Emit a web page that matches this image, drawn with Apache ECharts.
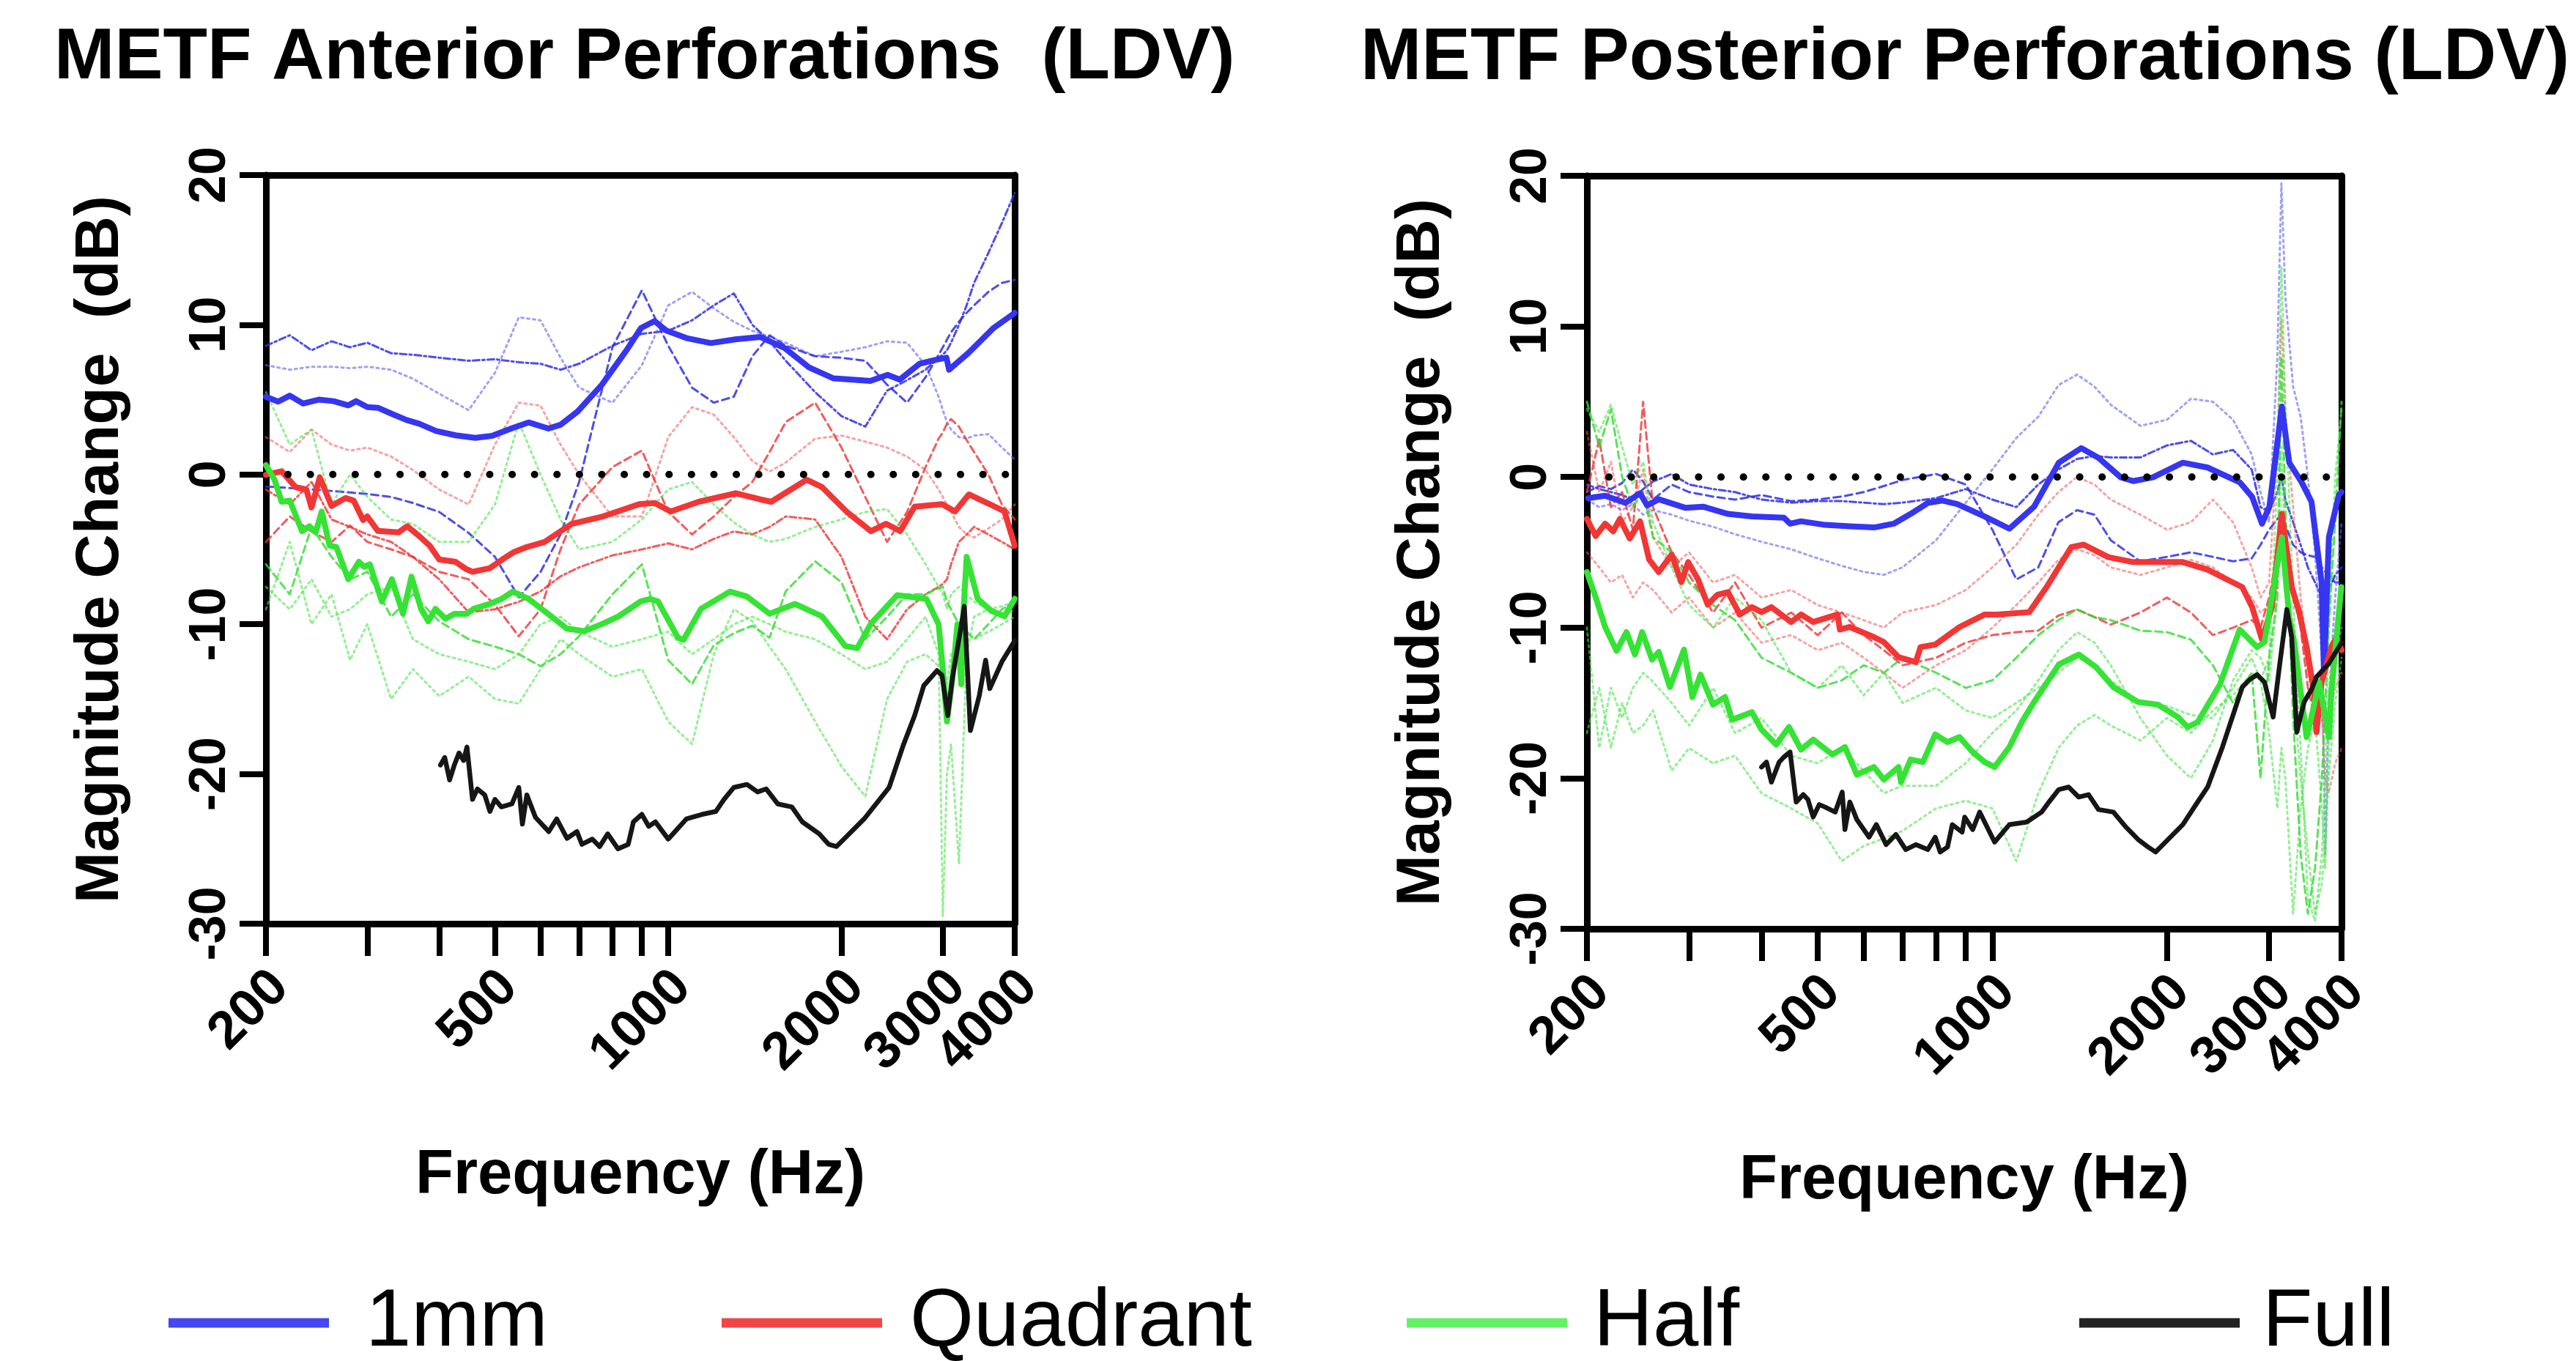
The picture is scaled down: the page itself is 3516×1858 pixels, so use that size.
<!DOCTYPE html>
<html>
<head>
<meta charset="utf-8">
<title>METF Perforations (LDV)</title>
<script src="https://cdn.jsdelivr.net/npm/echarts@6/dist/echarts.min.js"></script>
<style>
  html, body { margin: 0; padding: 0; background: #fff; }
  #chart { width: 3516px; height: 1858px; }
</style>
</head>
<body>
<div id="chart"></div>
<script>
// ---- axis ticks ----
const freqTicks = [200, 300, 400, 500, 600, 700, 800, 900, 1000, 2000, 3000, 4000];
const freqLabels = [200, 500, 1000, 2000, 3000];
const freqLabelsEnd = [4000];   // drawn on an overlay axis so it is not dropped as overlapping

// ---- anterior panel: group means ----
const blueMeanLFreq = [200,210,220,232,247,262,278,287,300,313,331,351,369,395,427,462,494,540,572,619,650,696,767,846,897,947,994,1076,1186,1309,1444,1593,1757,1938,2245,2405,2526,2733,2898,3044,3076,3326,3668,3984,4000];
const blueMeanL = [5.19,4.87,5.27,4.74,5.0,4.9,4.62,4.9,4.5,4.46,4.05,3.64,3.4,2.91,2.62,2.45,2.58,3.15,3.48,3.07,3.32,4.21,6.0,8.29,9.79,10.25,9.6,9.11,8.78,9.03,9.19,8.45,7.15,6.42,6.25,6.66,6.34,7.39,7.64,7.8,7.0,8.13,9.76,10.74,10.8];

const redMeanLFreq = [200,213,225,235,240,248,260,275,284,295,300,313,340,352,369,385,400,427,445,457,490,515,540,568,610,680,770,840,890,947,1010,1130,1310,1445,1510,1740,1850,2040,2250,2390,2530,2680,2990,3150,3330,3620,3840,4000];
const redMeanL = [-0.02,0.22,-0.84,-1.0,-2.2,-0.19,-2.1,-1.57,-1.74,-3.04,-2.8,-3.77,-3.86,-3.45,-4.1,-4.75,-5.67,-5.83,-6.3,-6.5,-6.25,-5.67,-5.17,-4.84,-4.5,-3.29,-2.8,-2.31,-1.98,-1.9,-2.47,-1.82,-1.25,-1.66,-1.82,-0.35,-0.84,-2.47,-3.78,-3.29,-3.78,-2.15,-1.98,-2.47,-1.33,-1.98,-2.47,-4.75];

const greenMeanLFreq = [200,207,213,220,231,238,244,250,258,265,278,290,296,303,318,331,346,358,372,383,394,410,425,447,459,490,513,537,572,618,667,715,770,820,895,930,960,1040,1063,1140,1280,1370,1500,1660,1850,2030,2130,2250,2500,2810,2950,3000,3050,3120,3180,3230,3260,3300,3450,3640,3840,4000];
const greenMeanL = [0.63,-0.35,-1.82,-1.74,-3.78,-3.45,-3.86,-2.47,-4.75,-4.84,-6.99,-5.83,-6.16,-6.0,-8.48,-6.99,-9.3,-6.83,-8.97,-9.8,-8.97,-9.63,-9.3,-9.3,-8.97,-8.64,-8.31,-7.82,-8.31,-9.3,-10.3,-10.46,-9.96,-9.47,-8.48,-8.31,-8.48,-10.9,-11.04,-8.97,-7.82,-8.15,-9.3,-8.64,-9.47,-11.45,-11.6,-9.96,-8.06,-8.31,-10.0,-13.0,-16.5,-13.5,-10.0,-14.0,-9.0,-5.5,-8.3,-9.1,-9.47,-8.3];

const fullLFreq = [402,409,417,425,433,441,447,457,466,480,490,500,513,535,550,558,568,588,620,640,667,694,708,738,760,785,818,852,870,900,925,950,1000,1076,1145,1210,1250,1300,1370,1430,1480,1550,1640,1710,1830,1900,1960,2020,2190,2420,2560,2680,2780,2930,2990,3060,3120,3200,3270,3350,3470,3560,3620,3800,4000];
const fullL = [-19.4,-18.9,-20.4,-19.4,-18.6,-19.1,-18.2,-21.7,-21.0,-21.4,-22.5,-21.7,-22.2,-22.0,-20.9,-23.35,-21.4,-22.9,-23.85,-23.0,-24.3,-23.85,-24.7,-24.35,-24.85,-24.0,-25.0,-24.7,-23.2,-22.7,-23.5,-23.2,-24.35,-23.0,-22.7,-22.5,-21.7,-20.9,-20.7,-21.2,-21.0,-22.0,-22.2,-23.2,-24.0,-24.7,-24.85,-24.35,-23.0,-20.9,-18.1,-16.1,-14.1,-13.1,-13.4,-16.1,-13.5,-11.0,-8.8,-17.1,-14.8,-12.4,-14.3,-12.5,-11.1];

// ---- anterior panel: individual ears ----
const thinLFreq = [200,220,240,260,280,300,330,360,400,450,500,550,600,650,700,800,900,1000,1100,1200,1300,1400,1500,1600,1800,2000,2200,2400,2600,2800,2950,3000,3050,3100,3200,3300,3400,3600,3800,4000];
const blueDashDotL = [8.6,9.3,8.3,8.9,8.5,8.8,8.1,8.0,7.8,7.6,7.7,7.5,7.4,7.0,7.4,8.6,9.4,9.6,10.3,11.3,12.1,10.0,8.9,7.6,5.5,3.9,3.2,5.6,6.3,7.0,7.8,8.0,8.3,8.8,10.0,11.3,12.8,14.8,16.8,18.8];
const blueDotL = [7.3,7.0,7.2,7.2,7.1,7.2,7.0,6.4,5.4,4.3,6.8,10.5,10.3,7.8,5.8,4.8,7.3,11.3,12.2,11.1,10.2,9.6,9.2,8.8,7.9,8.2,8.5,8.9,8.8,7.3,5.2,4.3,3.5,3.0,2.5,2.4,2.6,2.7,1.8,1.0];
const blueDashL = [-0.8,-0.9,-1.0,-1.1,-1.2,-1.3,-1.5,-1.9,-2.5,-3.9,-5.5,-8.2,-6.5,-4.0,-0.5,8.5,12.3,8.6,5.8,4.8,5.2,7.9,9.3,8.6,7.9,7.8,7.6,6.0,4.8,6.5,8.0,8.5,9.0,9.5,10.2,10.8,11.3,12.2,12.8,13.0];
const redDotL = [2.5,1.5,3.0,2.0,1.6,1.8,1.2,0.3,-1.0,-2.0,2.0,4.8,4.6,2.0,0.0,-2.8,-2.8,2.5,4.5,4.0,2.5,0.9,0.2,0.8,2.4,2.6,2.2,1.8,1.2,0.3,-1.0,-1.5,-2.0,-2.5,-3.5,-4.0,-4.2,-3.6,-3.0,-2.0];
const redDashL = [-4.5,-2.8,-3.8,-4.5,-3.4,-4.5,-5.0,-5.5,-6.5,-7.0,-8.7,-10.8,-9.0,-5.0,-2.0,0.5,1.6,-2.5,-4.0,-2.8,-1.5,-0.5,1.5,3.5,4.8,1.8,-1.5,-4.5,-2.5,0.5,2.4,2.8,3.4,3.7,3.2,2.3,1.5,0.0,-2.0,-3.0];
const redDashDotL = [-1.0,-2.0,-0.5,-3.0,-3.5,-4.0,-4.5,-5.5,-7.0,-9.2,-9.0,-8.5,-7.8,-6.8,-6.2,-5.4,-5.0,-4.6,-5.0,-4.3,-3.8,-4.0,-3.5,-2.8,-3.0,-5.5,-9.5,-11.0,-9.0,-8.0,-7.5,-7.3,-7.0,-6.0,-4.5,-4.0,-3.5,-4.0,-4.5,-5.0];
const greenDotAL = [5.5,2.0,3.0,-2.0,0.0,-1.5,-3.0,-3.3,-4.5,-4.5,-2.0,3.5,0.0,-3.0,-5.0,-4.5,-3.0,-1.0,-0.5,-2.0,-3.2,-4.0,-4.5,-4.3,-3.5,-3.0,-2.5,-2.3,-4.0,-6.0,-7.5,-8.0,-9.0,-8.0,-7.5,-8.0,-8.5,-9.0,-9.5,-9.0];
const greenDashL = [-6.0,-8.0,-3.5,-5.5,-7.0,-6.5,-9.5,-8.0,-9.8,-11.0,-11.5,-12.0,-12.8,-12.0,-10.8,-8.0,-6.0,-12.4,-14.0,-11.4,-10.6,-10.1,-10.9,-7.8,-5.8,-7.2,-11.0,-9.5,-8.0,-8.0,-7.6,-7.5,-8.5,-9.0,-10.0,-10.5,-11.0,-10.0,-9.0,-8.5];
const greenDotBL = [-9.0,-4.5,-10.0,-8.0,-12.4,-10.0,-15.0,-13.0,-14.8,-13.5,-15.0,-15.3,-13.0,-11.0,-12.0,-13.5,-13.0,-16.5,-18.0,-12.0,-9.0,-9.8,-11.5,-13.0,-16.5,-19.5,-21.5,-15.0,-12.5,-12.0,-12.8,-13.0,-14.0,-12.0,-11.5,-10.5,-11.0,-10.5,-10.0,-9.5];
const greenDotCL = [-7.5,-9.0,-7.0,-9.5,-9.0,-8.0,-7.5,-11.0,-12.0,-12.5,-13.0,-12.0,-10.0,-9.5,-10.5,-11.5,-11.0,-10.5,-12.0,-11.0,-10.0,-9.5,-10.0,-10.5,-11.0,-12.0,-13.0,-12.5,-11.0,-9.5,-12.0,-29.5,-20.0,-18.0,-26.0,-12.0,-9.5,-9.0,-8.8,-8.5];

// ---- posterior panel: group means ----
const blueMeanRFreq = [201,215,233,247,254,266,296,317,350,385,437,448,468,515,568,625,676,723,774,820,870,970,1070,1180,1302,1423,1524,1665,1749,1892,2130,2350,2670,2805,2917,3004,3156,3250,3414,3550,3695,3730,3804,3957,4000];
const blueMeanR = [-1.4,-1.24,-1.72,-1.08,-1.89,-1.48,-2.05,-1.97,-2.45,-2.62,-2.7,-3.1,-2.94,-3.18,-3.27,-3.35,-3.1,-2.45,-1.72,-1.56,-1.8,-2.62,-3.43,-1.97,0.95,1.92,1.27,-0.02,-0.27,-0.02,0.95,0.63,-0.35,-1.32,-3.1,-1.97,4.68,0.95,-0.35,-1.64,-7.0,-13.0,-4.0,-1.2,-1.0];

const redMeanRFreq = [200,207,215,222,228,237,247,256,266,280,291,299,311,323,336,350,367,385,400,416,450,468,491,541,546,568,625,650,689,738,752,797,878,970,1019,1158,1240,1368,1437,1585,1749,2130,2350,2593,2697,2805,2917,3034,3156,3282,3381,3482,3586,3621,3695,3842,3919,4000];
const redMeanR = [-2.78,-3.92,-3.1,-3.6,-2.78,-4.08,-2.94,-5.48,-6.31,-5.15,-6.98,-5.65,-6.81,-8.47,-7.81,-7.64,-9.13,-8.64,-8.97,-8.64,-9.63,-9.13,-9.63,-9.13,-10.13,-9.96,-10.63,-10.96,-11.96,-12.29,-11.29,-11.13,-9.96,-9.13,-9.13,-8.97,-7.31,-4.65,-4.49,-5.32,-5.65,-5.65,-6.15,-6.98,-7.31,-8.64,-10.79,-8.64,-2.45,-7.31,-8.97,-11.29,-14.28,-16.94,-13.62,-11.29,-10.63,-11.5];

const greenMeanRFreq = [200,207,215,225,234,242,249,259,266,278,294,304,314,330,346,356,385,400,424,446,468,491,530,557,584,625,650,689,696,723,759,797,837,878,925,970,1009,1070,1124,1180,1302,1409,1509,1617,1784,1930,2088,2172,2259,2468,2670,2860,2946,3156,3250,3315,3482,3550,3658,3804,3842,3996];
const greenMeanR = [-6.31,-7.97,-9.96,-11.54,-10.3,-11.79,-10.3,-12.12,-11.62,-13.95,-11.46,-14.61,-13.12,-15.11,-14.61,-16.11,-15.61,-16.77,-17.77,-16.6,-18.1,-17.43,-18.43,-17.93,-19.76,-19.26,-20.09,-19.26,-20.26,-18.76,-18.93,-17.1,-17.6,-17.27,-18.26,-18.93,-19.26,-17.93,-16.27,-14.94,-12.45,-11.79,-12.62,-13.95,-14.94,-15.11,-15.94,-16.6,-16.27,-13.78,-10.13,-11.29,-10.96,-4.0,-9.3,-10.96,-17.27,-15.94,-13.62,-17.27,-14.28,-7.31];

const fullRFreq = [400,408,416,429,437,448,459,472,481,491,503,515,536,551,557,568,584,613,631,656,682,709,738,774,797,813,837,853,887,896,925,951,1009,1070,1146,1216,1252,1302,1354,1409,1465,1524,1617,1699,1784,1856,1912,1969,2130,2259,2350,2493,2593,2697,2777,2860,2946,3049,3125,3219,3282,3348,3448,3550,3621,3800,4000];
const fullR = [-19.26,-18.93,-20.26,-18.93,-18.6,-18.26,-21.58,-21.09,-21.42,-22.58,-21.75,-21.92,-22.25,-20.92,-23.41,-21.58,-22.75,-23.91,-23.08,-24.41,-23.74,-24.74,-24.41,-24.74,-23.91,-24.9,-24.57,-23.08,-23.58,-22.58,-23.41,-22.25,-24.24,-23.08,-22.91,-22.25,-21.58,-20.75,-20.59,-21.25,-21.09,-22.08,-22.25,-23.24,-24.07,-24.57,-24.9,-24.41,-23.08,-21.58,-20.59,-17.93,-15.94,-13.95,-13.45,-13.12,-13.62,-15.94,-12.62,-8.8,-10.63,-16.94,-14.94,-14.11,-13.28,-12.4,-11.0];

// ---- posterior panel: individual ears ----
const thinRFreq = [200,210,220,230,240,250,260,280,300,330,360,400,450,500,550,600,650,700,800,900,1000,1100,1200,1300,1400,1500,1600,1800,2000,2200,2400,2600,2800,2900,3000,3100,3150,3200,3300,3400,3500,3600,3700,3750,3800,3900,4000];
const blueDashR = [-1.0,-0.6,-0.8,-0.4,0.5,-0.3,-1.5,-0.5,-1.0,-1.3,-1.5,-1.2,-1.6,-1.5,-1.3,-1.0,-0.6,-0.2,0.2,-0.5,-3.5,-6.8,-6.0,-3.0,-2.2,-2.5,-4.2,-5.6,-5.3,-5.0,-5.3,-5.6,-5.4,-4.5,-3.5,-2.8,-2.5,-3.2,-4.5,-5.0,-5.2,-5.3,-6.0,-6.3,-6.5,-7.0,-7.0];
const blueDashDotR = [-0.5,-0.8,-1.0,-1.2,-1.5,-0.8,-0.3,0.2,-0.5,-0.8,-1.0,-1.5,-1.7,-1.6,-1.6,-1.7,-1.8,-1.7,-1.4,-0.8,-1.5,-2.0,-0.5,0.5,1.2,1.4,1.3,1.3,2.1,2.4,1.5,1.8,0.5,-2.0,-2.3,-1.0,0.0,-1.5,-3.0,-4.5,-6.0,-7.0,-8.0,-8.0,-7.5,-6.5,-6.0];
const blueDotR = [-1.5,-2.0,-1.8,-2.2,-1.8,-2.5,-2.2,-2.5,-2.9,-3.3,-3.8,-4.3,-4.8,-5.4,-5.9,-6.3,-6.5,-6.0,-4.2,-1.7,0.5,2.6,4.0,6.1,6.8,6.0,4.8,3.4,3.8,5.2,5.0,3.8,1.5,-1.0,-3.0,8.0,19.5,12.0,6.0,4.0,0.0,-5.0,-12.0,-25.0,-15.0,-8.0,-3.0];
const redDotR = [3.0,-1.0,1.0,-3.0,-2.0,0.5,-4.0,-6.0,-5.0,-7.0,-6.5,-8.0,-7.5,-8.5,-9.0,-9.5,-10.0,-9.0,-8.5,-7.5,-6.0,-4.5,-2.5,-1.0,0.0,-0.5,-1.5,-2.5,-3.5,-3.0,-1.5,-3.0,-6.0,-8.0,-7.0,2.0,10.5,4.0,-2.0,-8.0,-12.0,-14.0,-16.0,-20.0,-21.0,-19.0,-18.0];
const redDashR = [-1.0,2.5,-2.0,-1.0,-3.5,5.0,-2.0,-5.0,-6.5,-9.0,-7.0,-10.0,-9.0,-10.5,-9.0,-10.5,-11.5,-12.5,-12.0,-11.0,-10.5,-10.3,-10.2,-9.2,-8.8,-9.3,-9.8,-9.0,-8.0,-9.0,-10.5,-10.0,-9.5,-10.0,-8.0,-5.0,-3.0,-5.0,-7.0,-10.0,-14.0,-16.0,-14.0,-13.0,-12.0,-11.0,-11.0];
const redDotBR = [-5.0,-6.0,-7.0,-6.5,-8.0,-7.0,-7.5,-9.0,-8.0,-10.0,-9.0,-11.0,-10.5,-11.5,-11.0,-12.0,-13.0,-14.0,-12.5,-11.5,-10.0,-8.5,-7.0,-5.5,-4.8,-5.2,-6.0,-6.5,-6.0,-5.5,-6.0,-7.0,-8.0,-9.0,-8.5,-6.0,-4.0,-6.0,-8.0,-10.0,-13.0,-15.0,-16.0,-17.0,-16.0,-14.0,-13.0];
const greenDashR = [5.0,2.0,4.5,0.0,-2.0,-1.0,-4.0,-5.0,-7.0,-8.5,-9.5,-12.0,-13.0,-14.0,-13.5,-12.5,-13.0,-12.0,-13.0,-14.0,-13.5,-12.0,-10.5,-9.5,-8.8,-9.3,-9.5,-10.2,-10.3,-10.8,-12.5,-15.0,-13.0,-20.0,-12.0,-8.0,8.0,-2.0,-16.0,-25.0,-29.0,-26.0,-20.0,-15.0,-10.0,-3.0,5.0];
const greenDotAR = [-10.0,-18.0,-14.0,-16.0,-14.0,-13.0,-13.6,-15.0,-16.5,-14.0,-17.0,-16.0,-18.5,-19.0,-18.0,-19.5,-21.0,-20.5,-20.5,-19.0,-17.0,-15.5,-13.5,-11.5,-10.3,-11.0,-12.5,-16.0,-18.5,-20.0,-17.5,-13.5,-11.5,-12.0,-13.5,-8.0,2.0,-5.0,-14.0,-20.0,-25.0,-29.0,-27.0,-24.0,-20.0,-15.0,-12.0];
const greenDotBR = [-17.0,-14.0,-18.0,-15.0,-17.0,-16.5,-15.5,-19.5,-18.0,-19.0,-18.5,-21.0,-22.0,-23.0,-25.5,-24.5,-24.0,-23.5,-22.0,-21.5,-22.0,-25.5,-21.0,-18.0,-16.5,-15.8,-16.5,-17.5,-16.0,-17.0,-15.5,-14.5,-13.0,-13.5,-17.0,-22.0,-18.0,-20.0,-29.0,-22.0,-18.0,-16.0,-22.0,-26.0,-18.0,-12.0,-10.0];
const greenDotCR = [4.5,3.0,4.8,2.0,-0.5,1.0,-3.0,-6.0,-8.5,-10.0,-8.0,-9.5,-13.0,-14.0,-12.5,-14.5,-13.0,-15.0,-14.0,-15.5,-16.0,-15.0,-14.0,-13.0,-12.0,-12.5,-13.5,-15.0,-15.2,-15.8,-16.0,-14.0,-12.0,-13.5,-12.0,0.0,14.0,5.0,-8.0,-18.0,-28.0,-29.5,-25.0,-20.0,-10.0,0.0,4.5];

const groups = ['1mm', 'Quadrant', 'Half', 'Full'];

const FONT = '"Liberation Sans", Arial, Helvetica, sans-serif';
const C = {
  blue: '#3535f2', red: '#f23535', green: '#35e335', black: '#161616',
  blueDash: 'rgba(45,45,235,0.85)', blueDot: 'rgba(95,95,245,0.6)',
  redDash: 'rgba(240,50,50,0.8)', redDot: 'rgba(240,85,85,0.55)',
  greenDash: 'rgba(45,220,45,0.8)', greenDot: 'rgba(70,230,70,0.6)'
};
const DASH = [10, 6], DOT = [3, 5], DASHDOT = [9, 4, 3, 4];
const X_PER_PANEL = 3;

const chart = echarts.init(document.getElementById('chart'));

function pairs(freq, vals) {
  return freq.map((f, i) => [f, vals[i]]);
}

function line(panel, name, freq, vals, color, width, type, z) {
  return {
    type: 'line', name: name,
    xAxisIndex: panel * X_PER_PANEL, yAxisIndex: panel * 2,
    data: pairs(freq, vals),
    symbol: 'none', showSymbol: false, z: z, silent: true,
    lineStyle: { color: color, width: width, type: type, cap: 'round', join: 'round' },
    itemStyle: { color: color }
  };
}

const xAxes = [], yAxes = [], grids = [];
const boxLine = { show: true, onZero: false, lineStyle: { color: '#000', width: 9 } };

function freqLabel(values) {
  return {
    show: true, customValues: values, rotate: 45, margin: 56, verticalAlign: 'top',
    lineHeight: 56, showMinLabel: true, showMaxLabel: true, hideOverlap: false,
    fontSize: 72, fontWeight: 'bold', color: '#000', fontFamily: FONT,
    formatter: v => String(Math.round(v))
  };
}

function addPanel(left, top, w, h) {
  const i = grids.length;
  grids.push({ left: left, top: top, width: w, height: h, containLabel: false, outerBoundsMode: 'none' });
  // frequency axis carrying the data
  xAxes.push({
    type: 'log', gridIndex: i, min: 200, max: 4000, position: 'bottom',
    axisLine: boxLine,
    axisTick: { show: true, length: 44, customValues: freqTicks, lineStyle: { color: '#000', width: 8 } },
    axisLabel: freqLabel(freqLabels),
    splitLine: { show: false }, minorTick: { show: false },
    name: 'Frequency (Hz)', nameLocation: 'middle', nameGap: 302, nameMoveOverlap: false,
    nameTextStyle: { fontSize: 85, fontWeight: 'bold', color: '#000', fontFamily: FONT }
  });
  // top edge of the frame
  xAxes.push({
    type: 'value', gridIndex: i, position: 'top', min: 0, max: 1,
    axisLine: boxLine, axisTick: { show: false }, axisLabel: { show: false }, splitLine: { show: false }
  });
  // same frequency scale, only for the last label
  xAxes.push({
    type: 'log', gridIndex: i, min: 200, max: 4000, position: 'bottom',
    axisLine: { show: false, onZero: false }, axisTick: { show: false },
    axisLabel: freqLabel(freqLabelsEnd),
    splitLine: { show: false }, minorTick: { show: false }
  });
  yAxes.push({
    type: 'value', gridIndex: i, position: 'left', min: -30, max: 20, interval: 10,
    axisLine: boxLine,
    axisTick: { show: true, length: 36, lineStyle: { color: '#000', width: 8 } },
    axisLabel: {
      rotate: 90, margin: 40, showMinLabel: true, showMaxLabel: true,
      fontSize: 70, fontWeight: 'bold', color: '#000', fontFamily: FONT
    },
    splitLine: { show: false },
    name: 'Magnitude Change  (dB)', nameLocation: 'middle', nameGap: 183, nameRotate: 90, nameMoveOverlap: false,
    nameTextStyle: { fontSize: 84, fontWeight: 'bold', color: '#000', fontFamily: FONT }
  });
  yAxes.push({
    type: 'value', gridIndex: i, position: 'right', min: 0, max: 1,
    axisLine: boxLine, axisTick: { show: false }, axisLabel: { show: false }, splitLine: { show: false }
  });
}

addPanel(363, 239, 1022, 1022);
addPanel(2166, 240, 1030, 1028);

function zeroLine(panel) {
  return {
    type: 'line', name: 'zero', xAxisIndex: panel * X_PER_PANEL, yAxisIndex: panel * 2,
    data: [[200, 0], [4000, 0]], symbol: 'none', z: 6, silent: true,
    lineStyle: { color: '#000', width: 10, type: [0.1, 30.5], dashOffset: 0.6, cap: 'round' }
  };
}

const series = [
  // anterior
  line(0, 'b1', thinLFreq, blueDashDotL, C.blueDash, 3, DASHDOT, 2),
  line(0, 'b2', thinLFreq, blueDotL, C.blueDot, 3, DOT, 2),
  line(0, 'b3', thinLFreq, blueDashL, C.blueDash, 3, DASH, 2),
  line(0, 'r1', thinLFreq, redDotL, C.redDot, 3, DOT, 2),
  line(0, 'r2', thinLFreq, redDashL, C.redDash, 3, DASH, 2),
  line(0, 'r3', thinLFreq, redDashDotL, C.redDash, 3, DASHDOT, 2),
  line(0, 'g1', thinLFreq, greenDotAL, C.greenDot, 3, DOT, 2),
  line(0, 'g2', thinLFreq, greenDashL, C.greenDash, 3, DASH, 2),
  line(0, 'g3', thinLFreq, greenDotBL, C.greenDot, 3, DOT, 2),
  line(0, 'g4', thinLFreq, greenDotCL, C.greenDot, 3, DOT, 2),
  line(0, groups[0], blueMeanLFreq, blueMeanL, C.blue, 8, 'solid', 4),
  line(0, groups[1], redMeanLFreq, redMeanL, C.red, 8, 'solid', 4),
  line(0, groups[2], greenMeanLFreq, greenMeanL, C.green, 8, 'solid', 4),
  line(0, groups[3], fullLFreq, fullL, C.black, 6.5, 'solid', 4),
  zeroLine(0),
  // posterior
  line(1, 'b1', thinRFreq, blueDashR, C.blueDash, 3, DASH, 2),
  line(1, 'b2', thinRFreq, blueDashDotR, C.blueDash, 3, DASHDOT, 2),
  line(1, 'b3', thinRFreq, blueDotR, C.blueDot, 3, DOT, 2),
  line(1, 'r1', thinRFreq, redDotR, C.redDot, 3, DOT, 2),
  line(1, 'r2', thinRFreq, redDashR, C.redDash, 3, DASH, 2),
  line(1, 'r3', thinRFreq, redDotBR, C.redDot, 3, DOT, 2),
  line(1, 'g1', thinRFreq, greenDashR, C.greenDash, 3, DASH, 2),
  line(1, 'g2', thinRFreq, greenDotAR, C.greenDot, 3, DOT, 2),
  line(1, 'g3', thinRFreq, greenDotBR, C.greenDot, 3, DOT, 2),
  line(1, 'g4', thinRFreq, greenDotCR, C.greenDot, 3, DOT, 2),
  line(1, groups[0], blueMeanRFreq, blueMeanR, C.blue, 8, 'solid', 4),
  line(1, groups[1], redMeanRFreq, redMeanR, C.red, 8, 'solid', 4),
  line(1, groups[2], greenMeanRFreq, greenMeanR, C.green, 8, 'solid', 4),
  line(1, groups[3], fullRFreq, fullR, C.black, 6.5, 'solid', 4),
  zeroLine(1)
];

const legendColors = ['#4646f2', '#f24646', '#66f066', '#222222'];
const legendLeft = [230, 985, 1920, 2838];
const legendTextGap = [45, 33, 31, 26];

chart.setOption({
  animation: false,
  backgroundColor: '#fff',
  title: [
    { text: 'METF Anterior Perforations  (LDV)', left: 74, top: 30, padding: 0,
      textStyle: { fontSize: 99, fontWeight: 'bold', color: '#000', fontFamily: FONT } },
    { text: 'METF Posterior Perforations (LDV)', left: 1857, top: 30, padding: 0,
      textStyle: { fontSize: 100, fontWeight: 'bold', color: '#000', fontFamily: FONT } }
  ],
  legend: groups.map((g, i) => ({
    data: [{ name: g, itemStyle: { color: legendColors[i] }, lineStyle: { color: legendColors[i] } }],
    left: legendLeft[i], top: 1750, padding: 0, selectedMode: false,
    icon: 'rect', itemWidth: 219, itemHeight: 13,
    lineStyle: { width: 13 },
    textStyle: { fontSize: 112, color: '#000', fontFamily: FONT, padding: [0, 0, 0, legendTextGap[i]] }
  })),
  grid: grids,
  xAxis: xAxes,
  yAxis: yAxes,
  series: series
});
</script>
</body>
</html>
